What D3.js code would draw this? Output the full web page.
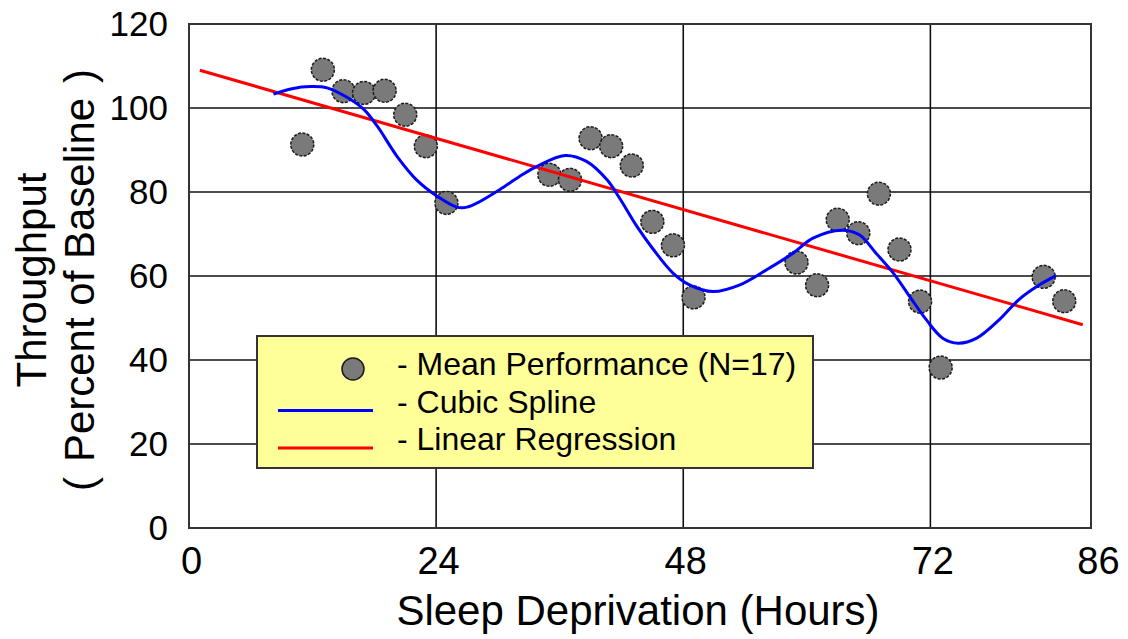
<!DOCTYPE html>
<html><head><meta charset="utf-8">
<script src="https://cdn.jsdelivr.net/npm/d3@7"></script>
<style>
body{margin:0;background:#fff}
svg text{font-family:"Liberation Sans",Arial,Helvetica,sans-serif;fill:#000}
</style>
</head><body>
<svg id="chart" width="1128" height="639"></svg>
<script>
// ---- data ----
const hours = [11,13,15,17,19,21,23,25,35,37,39,41,43,45,47,49,59,61,63,65,67,69,71,73,83,85];
const throughput = [91.3,109.1,104.0,103.6,104.1,98.4,90.9,77.4,84.1,82.9,92.8,90.9,86.3,72.9,67.3,54.9,63.2,57.8,73.4,70.2,79.6,66.3,53.9,38.2,59.8,54.0];

const splineHours  = [8.2,10.0,11.8,13.4,15.3,17.0,18.3,20.2,22.1,24.1,26.0,27.0,28.3,30.2,32.1,33.8,36.5,38.6,40.6,41.9,43.5,45.1,47.0,48.6,50.9,53.5,56.1,58.7,60.6,63.4,65.1,66.7,68.4,70.0,71.6,73.2,74.7,76.5,78.7,80.6,82.6,84.2];
const splineValues = [103.3,104.6,105.1,104.8,102.6,99.6,95.6,88.5,82.9,79.0,76.4,76.4,77.8,80.6,83.7,86.1,88.7,87.3,82.9,78.2,71.8,66.3,60.7,57.9,56.3,57.9,61.5,65.5,69.0,70.9,69.8,65.5,60.7,55.1,49.6,45.2,44.0,45.2,49.6,54.4,57.9,60.1];

const regressionHours  = [1.05, 86.8];
const regressionValues = [109.0, 48.4];

const xMax = 87.6;
const xTickValues = [0, 24, 48, 72, 87.6];
const xTickLabels = ["0", "24", "48", "72", "86"];
const yTickValues = [0, 20, 40, 60, 80, 100, 120];
const xGridValues = [24, 48, 72];
const yGridValues = [20, 40, 60, 80, 100];

const legendLabels = ["- Mean Performance (N=17)", "- Cubic Spline", "- Linear Regression"];
const xTitle = "Sleep Deprivation (Hours)";
const yTitle1 = "Throughput";
const yTitle2Parts = ["(", "Percent of Baseline", ")"];

// ---- layout ----
const L = 189, R = 1091, T = 24, B = 528;
const svg = d3.select("#chart");
const x = d3.scaleLinear().domain([0, xMax]).range([L, R]);
const y = d3.scaleLinear().domain([0, 120]).range([B, T]);

// grid
const grid = svg.append("g");
grid.selectAll("line.v").data(xGridValues).join("line")
  .attr("x1", d => x(d)).attr("x2", d => x(d)).attr("y1", T).attr("y2", B)
  .attr("stroke", "#111").attr("stroke-width", 1.6);
grid.selectAll("line.h").data(yGridValues).join("line")
  .attr("y1", d => y(d)).attr("y2", d => y(d)).attr("x1", L).attr("x2", R)
  .attr("stroke", "#111").attr("stroke-width", 1.6);

// frame
svg.append("rect").attr("x", L).attr("y", T).attr("width", R - L).attr("height", B - T)
  .attr("fill", "none").attr("stroke", "#333").attr("stroke-width", 2);

// axes (labels only)
const yAxis = svg.append("g").attr("transform", `translate(${L},0)`)
  .call(d3.axisLeft(y).tickValues(yTickValues).tickSize(0).tickPadding(21));
yAxis.select(".domain").remove();
yAxis.selectAll("text").style("font-size", "35px");

const xAxis = svg.append("g").attr("transform", `translate(0,${B})`)
  .call(d3.axisBottom(x).tickValues(xTickValues).tickFormat((d, i) => xTickLabels[i]).tickSize(0).tickPadding(19));
xAxis.select(".domain").remove();
xAxis.selectAll("text").style("font-size", "38px").attr("dx", (d, i) => i === xTickValues.length - 1 ? 7 : 2);

// titles
svg.append("text").attr("x", 638).attr("y", 625).attr("text-anchor", "middle")
  .style("font-size", "42px").text(xTitle);
svg.append("text").attr("transform", "translate(46,280) rotate(-90)").attr("text-anchor", "middle")
  .style("font-size", "42px").text(yTitle1);
const yt2 = svg.append("text").attr("transform", "translate(94,280) rotate(-90)").attr("text-anchor", "middle")
  .style("font-size", "42px");
yt2.selectAll("tspan").data(yTitle2Parts).join("tspan")
  .attr("dx", (d, i) => i === 0 ? 0 : 15).text(d => d);

// points
svg.append("g").selectAll("circle").data(hours).join("circle")
  .attr("cx", d => x(d)).attr("cy", (d, i) => y(throughput[i])).attr("r", 11.5)
  .attr("fill", "#7a7a7a").attr("stroke", "#1a1a1a").attr("stroke-width", 1.5)
  .attr("stroke-dasharray", "3,1.5");

// regression
const line = d3.line().x(d => x(d[0])).y(d => y(d[1]));
svg.append("path").datum(regressionHours.map((h, i) => [h, regressionValues[i]]))
  .attr("d", line).attr("fill", "none").attr("stroke", "#ff0000").attr("stroke-width", 3);

// spline
const spline = d3.line().x(d => x(d[0])).y(d => y(d[1])).curve(d3.curveCatmullRom.alpha(0.5));
svg.append("path").datum(splineHours.map((h, i) => [h, splineValues[i]]))
  .attr("d", spline).attr("fill", "none").attr("stroke", "#0000ff").attr("stroke-width", 3);

// legend
const lg = svg.append("g");
lg.append("rect").attr("x", 257).attr("y", 336).attr("width", 556).attr("height", 132)
  .attr("fill", "#ffff99").attr("stroke", "#333").attr("stroke-width", 2);
lg.append("circle").attr("cx", 353).attr("cy", 369).attr("r", 11)
  .attr("fill", "#7a7a7a").attr("stroke", "#1a1a1a").attr("stroke-width", 1.5);
lg.append("line").attr("x1", 278).attr("x2", 373).attr("y1", 410.5).attr("y2", 410.5)
  .attr("stroke", "#0000ff").attr("stroke-width", 3);
lg.append("line").attr("x1", 278).attr("x2", 373).attr("y1", 448).attr("y2", 448)
  .attr("stroke", "#ff0000").attr("stroke-width", 3);
lg.selectAll("text").data(legendLabels).join("text")
  .attr("x", 397).attr("y", (d, i) => 375 + i * 37.5)
  .style("font-size", "32px").text(d => d);
</script>
</body></html>
